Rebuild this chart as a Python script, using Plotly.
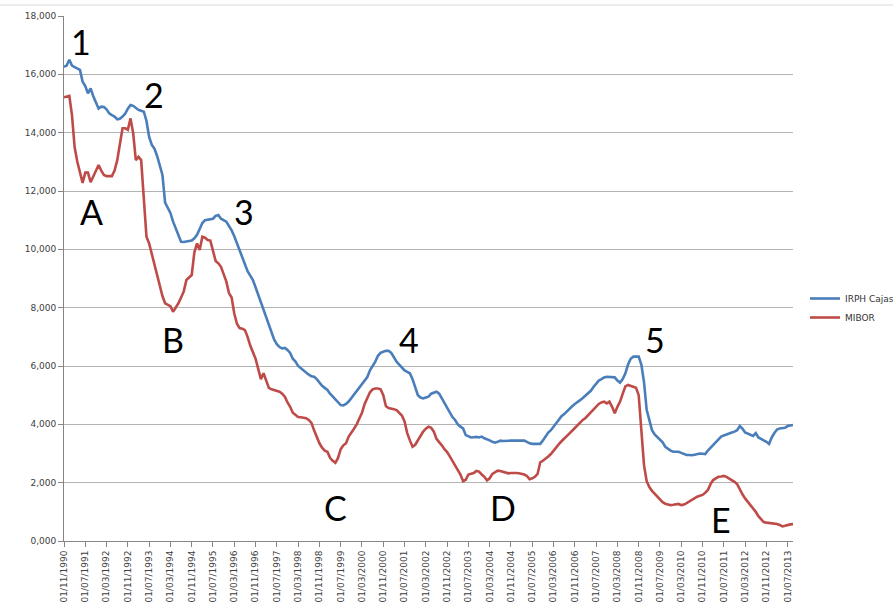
import pandas as pd
import plotly.graph_objects as go

# Monthly categories: 01/11/1990 .. 01/09/2013
months = [d.strftime("01/%m/%Y") for d in pd.date_range("1990-11-01", "2013-09-01", freq="MS")]

irph_cajas = [
    16.26, 16.30, 16.50, 16.30, 16.25, 16.20, 16.15, 15.75, 15.60, 15.35, 15.52, 15.25,
    15.05, 14.83, 14.89, 14.88, 14.80, 14.66, 14.60, 14.55, 14.46, 14.48, 14.55, 14.65,
    14.82, 14.95, 14.92, 14.85, 14.78, 14.75, 14.72, 14.40, 13.85, 13.58, 13.45, 13.20,
    12.90, 12.55, 11.60, 11.40, 11.25, 10.95, 10.70, 10.45, 10.26, 10.25, 10.26, 10.28,
    10.30, 10.38, 10.50, 10.70, 10.90, 11.00, 11.02, 11.02, 11.05, 11.15, 11.18, 11.05,
    11.00, 10.95, 10.80, 10.65, 10.45, 10.20, 9.95, 9.70, 9.45, 9.25, 9.10, 8.95,
    8.70, 8.45, 8.20, 7.95, 7.65, 7.40, 7.15, 6.90, 6.75, 6.65, 6.60, 6.62,
    6.55, 6.45, 6.25, 6.15, 6.00, 5.92, 5.85, 5.75, 5.70, 5.65, 5.63, 5.55,
    5.42, 5.32, 5.25, 5.18, 5.05, 4.95, 4.88, 4.75, 4.66, 4.65, 4.70, 4.78,
    4.90, 5.00, 5.12, 5.22, 5.35, 5.50, 5.62, 5.85, 6.00, 6.15, 6.35, 6.45,
    6.49, 6.52, 6.52, 6.45, 6.30, 6.15, 6.05, 5.95, 5.85, 5.80, 5.75, 5.55,
    5.30, 5.00, 4.92, 4.89, 4.92, 4.95, 5.05, 5.08, 5.12, 5.05, 4.89, 4.70,
    4.55, 4.40, 4.25, 4.15, 4.00, 3.92, 3.86, 3.63, 3.58, 3.55, 3.56, 3.57,
    3.55, 3.58, 3.52, 3.49, 3.45, 3.40, 3.37, 3.40, 3.44, 3.43, 3.44, 3.45,
    3.44, 3.44, 3.43, 3.44, 3.44, 3.44, 3.40, 3.35, 3.33, 3.33, 3.33, 3.33,
    3.45, 3.60, 3.72, 3.80, 3.92, 4.05, 4.15, 4.28, 4.35, 4.45, 4.55, 4.62,
    4.70, 4.78, 4.83, 4.90, 4.98, 5.06, 5.15, 5.28, 5.41, 5.50, 5.55, 5.61,
    5.63, 5.63, 5.62, 5.61, 5.50, 5.43, 5.55, 5.75, 6.05, 6.25, 6.32, 6.33,
    6.32, 6.05, 5.45, 4.50, 4.10, 3.80, 3.65, 3.55, 3.46, 3.38, 3.23, 3.15,
    3.10, 3.06, 3.06, 3.06, 3.02, 2.98, 2.95, 2.95, 2.94, 2.96, 2.98, 3.00,
    2.99, 2.98, 3.10, 3.20, 3.30, 3.40, 3.50, 3.58, 3.62, 3.66, 3.69, 3.72,
    3.75, 3.80, 3.94, 3.85, 3.72, 3.68, 3.62, 3.60, 3.70, 3.55, 3.50, 3.46,
    3.40, 3.33, 3.55, 3.70, 3.82, 3.86, 3.86, 3.88, 3.94, 3.95, 3.98,
]

mibor = [
    15.21, 15.24, 15.26, 14.60, 13.50, 13.00, 12.60, 12.28, 12.63, 12.63, 12.30, 12.50,
    12.70, 12.89, 12.70, 12.55, 12.51, 12.50, 12.51, 12.70, 13.05, 13.60, 14.15, 14.15,
    14.10, 14.49, 13.98, 13.06, 13.17, 13.06, 11.80, 10.43, 10.20, 9.85, 9.40, 9.10,
    8.80, 8.40, 8.15, 8.10, 8.05, 7.86, 8.00, 8.15, 8.35, 8.55, 8.95, 9.05,
    9.12, 9.90, 10.20, 9.98, 10.43, 10.40, 10.32, 10.30, 9.90, 9.60, 9.52, 9.40,
    9.15, 8.90, 8.50, 8.35, 7.80, 7.45, 7.30, 7.28, 7.23, 7.00, 6.70, 6.50,
    6.25, 5.90, 5.55, 5.75, 5.50, 5.25, 5.20, 5.18, 5.15, 5.12, 5.05, 4.95,
    4.75, 4.60, 4.40, 4.32, 4.25, 4.24, 4.22, 4.21, 4.15, 4.05, 3.80, 3.58,
    3.35, 3.20, 3.10, 3.06, 2.85, 2.75, 2.68, 2.85, 3.15, 3.28, 3.35, 3.58,
    3.70, 3.85, 4.00, 4.20, 4.40, 4.70, 4.90, 5.10, 5.20, 5.23, 5.23, 5.20,
    5.00, 4.62, 4.56, 4.55, 4.52, 4.49, 4.40, 4.30, 4.10, 3.70, 3.45, 3.23,
    3.30, 3.46, 3.60, 3.75, 3.85, 3.92, 3.88, 3.75, 3.50, 3.40, 3.28, 3.15,
    3.05, 2.90, 2.75, 2.60, 2.45, 2.28, 2.05, 2.10, 2.28, 2.30, 2.33, 2.40,
    2.38, 2.28, 2.20, 2.08, 2.15, 2.30, 2.35, 2.41, 2.40, 2.38, 2.36, 2.32,
    2.33, 2.34, 2.33, 2.32, 2.30, 2.28, 2.23, 2.12, 2.15, 2.20, 2.30, 2.70,
    2.75, 2.84, 2.90, 2.98, 3.10, 3.23, 3.32, 3.42, 3.50, 3.60, 3.69, 3.78,
    3.88, 3.95, 4.05, 4.15, 4.22, 4.32, 4.42, 4.52, 4.62, 4.70, 4.75, 4.78,
    4.72, 4.78, 4.60, 4.38, 4.60, 4.78, 5.05, 5.30, 5.35, 5.31, 5.29, 5.25,
    5.00, 3.90, 2.60, 2.05, 1.85, 1.72, 1.62, 1.50, 1.42, 1.33, 1.28, 1.25,
    1.23, 1.24, 1.26, 1.27, 1.23, 1.25, 1.30, 1.36, 1.43, 1.46, 1.52, 1.55,
    1.58, 1.65, 1.75, 1.95, 2.09, 2.15, 2.20, 2.21, 2.23, 2.20, 2.15, 2.10,
    2.03, 1.95, 1.75, 1.60, 1.46, 1.35, 1.23, 1.10, 1.00, 0.85, 0.75, 0.65,
    0.63, 0.62, 0.61, 0.60, 0.58, 0.55, 0.50, 0.52, 0.55, 0.57, 0.58,
]

tick_labels = months[::8]
y_ticks = [0, 2, 4, 6, 8, 10, 12, 14, 16, 18]

# Annotation labels (text, category index, value)
marker_labels = ["1", "2", "3", "4", "5", "A", "B", "C", "D", "E"]
marker_x_idx = [6.5, 34, 67.5, 129.5, 222, 10.5, 41, 102, 165, 247]
marker_y_val = [17.12, 15.3, 11.3, 6.9, 6.9, 11.3, 6.9, 1.15, 1.15, 0.75]

fig = go.Figure()
fig.add_trace(go.Scatter(x=months, y=irph_cajas, mode="lines", name="IRPH Cajas",
                         line=dict(color="#4a7ebb", width=2.6)))
fig.add_trace(go.Scatter(x=months, y=mibor, mode="lines", name="MIBOR",
                         line=dict(color="#be4b48", width=2.6)))

for t, xi, yv in zip(marker_labels, marker_x_idx, marker_y_val):
    fig.add_annotation(x=xi, y=yv, xref="x", yref="y", text=t, showarrow=False,
                       font=dict(family="Lato, Carlito, sans-serif", size=34, color="#000000"))

fig.update_layout(
    width=893, height=604,
    margin=dict(l=64, r=100, t=16, b=63, autoexpand=False),
    paper_bgcolor="white", plot_bgcolor="white",
    separators=",.",
    showlegend=True,
    legend=dict(x=805 / 893, y=1 - 308 / 604, xref="container", yref="container",
                xanchor="left", yanchor="middle",
                font=dict(family="Verdana, DejaVu Sans, sans-serif", size=9, color="#333333"),
                bgcolor="rgba(0,0,0,0)", itemwidth=30, tracegroupgap=2),
    font=dict(family="Verdana, DejaVu Sans, sans-serif", size=9, color="#404040"),
)
fig.update_xaxes(
    type="category", range=[0, len(months) - 1], automargin=False,
    tickmode="array", tickvals=tick_labels, ticktext=tick_labels,
    tickangle=-90, ticks="outside", ticklen=5, tickcolor="#868686",
    showline=True, linecolor="#868686", linewidth=1,
    showgrid=False, tickfont=dict(size=9, color="#404040"),
)
fig.update_yaxes(
    range=[0, 18], tickvals=y_ticks, tickformat=".3f", automargin=False,
    ticks="outside", ticklen=5, tickcolor="#868686",
    showline=True, linecolor="#868686", linewidth=1,
    showgrid=True, gridcolor="#b3b3b3", gridwidth=1, zeroline=False,
    tickfont=dict(size=9, color="#404040"),
)
fig.add_shape(type="line", xref="paper", yref="paper", x0=(0 - 64) / 729, x1=(893 - 64) / 729,
              y0=1 + 11 / 525, y1=1 + 11 / 525, line=dict(color="#d9d9d9", width=1))

fig.write_html("out.html", config={"displayModeBar": False},
               post_script="document.body.style.margin='0';document.body.style.padding='0';")
